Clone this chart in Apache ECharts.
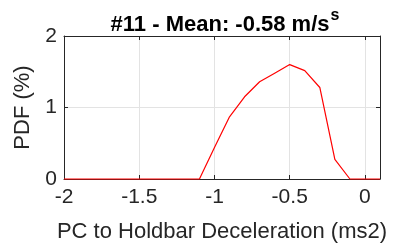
<!DOCTYPE html>
<html>
<head>
<meta charset="utf-8">
<script src="https://cdn.jsdelivr.net/npm/echarts@6/dist/echarts.min.js"></script>
<style>
  html, body { margin: 0; padding: 0; background: #fff; }
  #chart { width: 410px; height: 250px; }
</style>
</head>
<body>
<div id="chart"></div>
<script>
// bin centres (ms2) and PDF values (%)
var binX = [-2, -1.9, -1.8, -1.7, -1.6, -1.5, -1.4, -1.3, -1.2, -1.1, -1.0,
            -0.9, -0.8, -0.7, -0.6, -0.5, -0.4, -0.3, -0.2, -0.1, 0, 0.1];
var pdfVals = [0, 0, 0, 0, 0, 0, 0, 0, 0, 0, 0.44,
               0.87, 1.15, 1.36, 1.48, 1.60, 1.515, 1.28, 0.275, 0, 0, 0];
var xTicks = [-2, -1.5, -1, -0.5, 0];
var yTicks = [0, 1, 2];

var chart = echarts.init(document.getElementById('chart'));
var font = 'Liberation Sans, Arial, Helvetica, sans-serif';
var ink = '#262626';

var pts = [];
for (var i = 0; i < binX.length; i++) pts.push([binX[i], pdfVals[i]]);

var tickStyle = { show: true, inside: true, length: 4, lineStyle: { color: ink } };
var lineStyle = { show: true, onZero: false, lineStyle: { color: ink, width: 1 } };

chart.setOption({
  animation: false,
  title: {
    text: '{a|#11 - Mean: -0.58 m/s}{b|s}',
    left: 220, top: 3, textAlign: 'center',
    textStyle: {
      rich: {
        a: { fontFamily: font, fontSize: 22, fontWeight: 'bold', color: '#000', lineHeight: 28, verticalAlign: 'bottom' },
        b: { fontFamily: font, fontSize: 16, fontWeight: 'bold', color: '#000', lineHeight: 28, verticalAlign: 'top', padding: [0, 0, 8, 1] }
      }
    }
  },
  grid: { left: 64, right: 30, top: 36, bottom: 71, containLabel: false },
  xAxis: [{
    type: 'value', min: -2, max: 0.1, interval: 0.5,
    name: 'PC to Holdbar Deceleration (ms2)', nameLocation: 'middle', nameGap: 42,
    nameTextStyle: { fontFamily: font, fontSize: 22, color: ink },
    axisLine: lineStyle, axisTick: tickStyle,
    axisLabel: {
      fontFamily: font, fontSize: 21, color: ink, margin: 8,
      formatter: function (v) { return xTicks.indexOf(Math.round(v * 10) / 10) >= 0 ? String(v) : ''; }
    },
    splitLine: { show: true, lineStyle: { color: '#e3e3e3' } }
  }, {
    type: 'value', position: 'top', min: -2, max: 0.1, interval: 0.5,
    axisLine: lineStyle, axisTick: tickStyle, axisLabel: { show: false }, splitLine: { show: false }
  }],
  yAxis: [{
    type: 'value', min: 0, max: 2, interval: 1,
    name: 'PDF (%)', nameLocation: 'middle', nameGap: 23,
    nameTextStyle: { fontFamily: font, fontSize: 22, color: ink },
    axisLine: lineStyle, axisTick: tickStyle,
    axisLabel: {
      fontFamily: font, fontSize: 21, color: ink, margin: 7,
      formatter: function (v) { return yTicks.indexOf(v) >= 0 ? String(v) : ''; }
    },
    splitLine: { show: true, lineStyle: { color: '#e3e3e3' } }
  }, {
    type: 'value', position: 'right', min: 0, max: 2, interval: 1,
    axisLine: lineStyle, axisTick: tickStyle, axisLabel: { show: false }, splitLine: { show: false }
  }],
  series: [{
    type: 'line', data: pts, showSymbol: false, clip: false, z: 5,
    lineStyle: { color: '#ff0000', width: 1.2 }
  }]
});
</script>
</body>
</html>
